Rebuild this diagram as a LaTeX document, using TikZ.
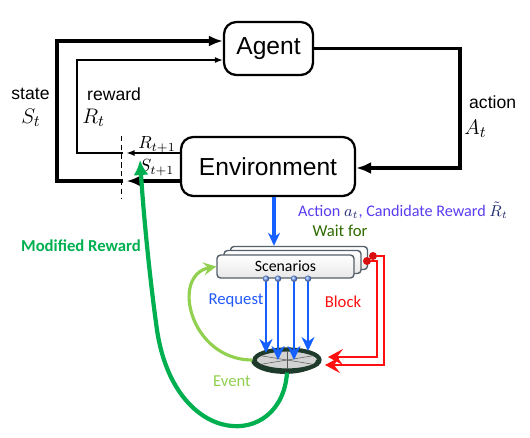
\documentclass[tikz,border=0pt]{standalone}
\usepackage{fontspec}
\setmainfont{Liberation Sans}
\newfontfamily\calfont{Carlito}
\usetikzlibrary{arrows.meta,shapes.geometric}
\definecolor{reqblue}{HTML}{1560FF}
\definecolor{violet}{HTML}{5A3CF0}
\definecolor{navy}{HTML}{202A70}
\definecolor{waitgreen}{HTML}{2E6B00}
\definecolor{modgreen}{HTML}{00B050}
\definecolor{evgreen}{HTML}{92D050}
\definecolor{blockred}{HTML}{FF1010}
\definecolor{rim}{HTML}{1E3A2A}
\definecolor{frame}{HTML}{56606A}
\tikzset{every node/.style={font=\fontsize{10}{12}\selectfont},
 rlbox/.style={draw,rounded corners=7pt,line width=1.3pt,fill=white,font=\fontsize{14}{16}\selectfont},
 thick loop/.style={line width=2pt,-{Latex[length=2.8mm,width=2.2mm]}},
 thin loop/.style={line width=.75pt,-{Latex[length=1.6mm,width=1.2mm]}},
 scenbox/.style={draw=frame,rounded corners=2pt,line width=.8pt,top color=white,bottom color=gray!18,
  minimum width=2.74cm,minimum height=.46cm,font=\calfont\fontsize{9}{11}\selectfont},
 req/.style={draw=reqblue,line width=1.6pt,-{Stealth[length=2.8mm,width=2.6mm]}},
 blk/.style={draw=blockred,line width=1.5pt,-{Stealth[length=3mm,width=3.2mm,inset=1.2mm]}},
 dot/.style={circle,fill=blockred!85!black,inner sep=0pt,minimum size=1.6mm},
 bluedot/.style={circle,ball color=reqblue!60,inner sep=0pt,minimum size=1.3mm},
 caltext/.style={font=\calfont\fontsize{9.5}{11}\selectfont}}

\begin{document}
\begin{tikzpicture}[x=0.02cm,y=-0.02cm]

\path[use as bounding box] (0,0) rectangle (530,437);
\node[rlbox,minimum width=1.78cm,minimum height=1.06cm] (agent) at (268.5,48.5) {Agent};
\node[rlbox,minimum width=3.48cm,minimum height=1.18cm] (env) at (268,166.5) {Environment};

% cut line between steps
\coordinate (cutS) at (123,181);
\coordinate (cutR) at (123,153);
\draw[densely dashed,line width=.5pt] (121.5,136) -- (121.5,198);
\draw[thick loop] (env.west |- cutS) -- ([xshift=2pt]cutS);
\draw[thick loop] (cutS) -- (57,181) -- (57,41) -- (agent.west |- 0,41);
\draw[thin loop] (env.west |- cutR) -- ([xshift=2pt]cutR);
\draw[thin loop] (cutR) -- (77,153) -- (77,60) -- (agent.west |- 0,60);
\draw[line width=2pt,-{Latex[length=3mm,width=2.4mm]}] (agent.east) -- (460,48.5) -- (460,168) -- (env.east |- 0,168);

\node at (30.5,94) {state};
\node[font=\fontsize{13}{14}\selectfont] at (31,118) {$S_t$};
\node[anchor=west] at (81,94) {reward};
\node[anchor=west,inner sep=0pt,font=\fontsize{13}{14}\selectfont] at (82,118) {$R_t$};
\node[anchor=west] at (463,102) {action};
\node[anchor=west,inner sep=0pt,font=\fontsize{13}{14}\selectfont] at (464,129) {$A_t$};
\node at (157,145) {$R_{t+1}$};
\node at (157,168) {$S_{t+1}$};

% scenario stack
\node[scenbox] (scenC) at (299,258) {};
\node[scenbox] (scenB) at (292.5,262) {};
\node[scenbox] (scen) at (285.5,266.5) {Scenarios};
\draw[line width=1.8pt,draw=reqblue,-{Stealth[length=2.6mm,width=2.4mm]}] (env.south -| 274,0) -- (scenC.north -| 274,0);
\node[caltext,text=violet,anchor=west,font=\calfont\fontsize{9.2}{11}\selectfont] at (292,210) {Action \textcolor{navy}{$a_t$}, Candidate Reward \textcolor{navy}{$\tilde{R}_t$}};
\node[caltext,text=waitgreen] at (340,231) {Wait for};

% event disk
\node[ellipse,draw=rim,line width=2.4pt,fill=gray!35,minimum width=1.3cm,minimum height=.42cm] (disk) at (287,360) {};
\draw[rim,line width=1.6pt] (disk.west) arc[start angle=180,end angle=360,x radius=.65cm,y radius=.25cm];
\foreach \a in {30,90,150,210,270,330}
 \draw[gray!70!black,line width=.3pt] (disk.center) -- ++(\a:.6cm and .17cm);

\foreach \x/\y [count=\i] in {266/353,278/360,294/360,308/351}{
 \coordinate (rq\i) at (\x,\y);
 \node[bluedot] (bd\i) at (scen.south -| rq\i) {};
 \draw[req] (bd\i) -- (rq\i);
}

\node[dot] (d1) at (367,261) {};
\node[dot] (d2) at (373,256) {};
\coordinate (t1) at (328,357);
\coordinate (t2) at (325,365);
\draw[blk] (d1) -- (377,261) -- (377,357) -- (t1);
\draw[blk] (d2) -- (384,256) -- (384,365) -- (t2);

\draw[evgreen,line width=1.8pt,-{Stealth[length=2.6mm,width=2.6mm,inset=1mm]}] (disk.west) .. controls (190,360) and (170,275) .. (scen.west);

\coordinate (modtip) at (140,160);
\draw[modgreen,line width=2.4pt,-{Latex[length=3mm,width=3mm]}] (disk.south) .. controls (282,450) and (175,450) .. (157,330) .. controls (150,280) and (144,220) .. (modtip);

\node[caltext,text=reqblue!80!violet] at (236,300) {Request};
\node[caltext,text=blockred] at (343,302) {Block};
\node[caltext,text=evgreen] at (232,381) {Event};
\node[caltext,text=modgreen,font=\calfont\bfseries\fontsize{9.5}{11}\selectfont] at (81,246) {Modified Reward};

\end{tikzpicture}
\end{document}
